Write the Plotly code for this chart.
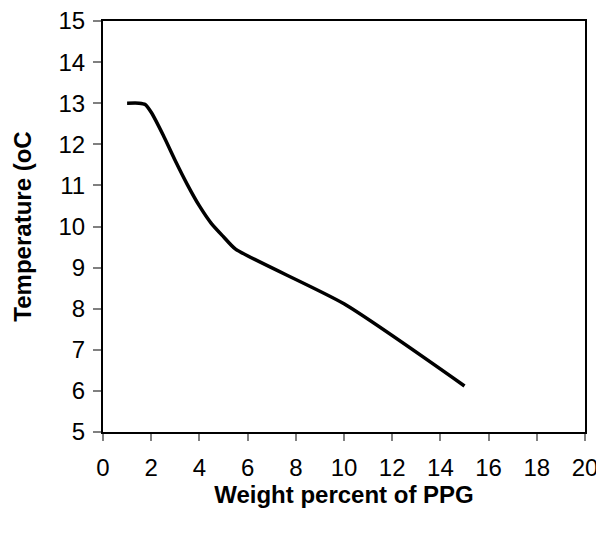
import plotly.graph_objects as go

weight_pct = [1.0, 1.5, 1.75, 2.0, 2.5, 3.0, 3.5, 4.0, 4.5, 5.0, 5.5, 10.0, 15.0]
temperature = [13.0, 13.0, 12.97, 12.78, 12.22, 11.6, 11.02, 10.5, 10.07, 9.75, 9.45, 8.12, 6.12]

x_ticks = [0, 2, 4, 6, 8, 10, 12, 14, 16, 18, 20]
y_ticks = [5, 6, 7, 8, 9, 10, 11, 12, 13, 14, 15]

fig = go.Figure()
fig.add_trace(go.Scatter(
    x=weight_pct, y=temperature, mode="lines",
    line=dict(color="black", width=3.5, shape="spline", smoothing=0.6),
    showlegend=False,
))

font_family = "Liberation Sans, Arial, sans-serif"
fig.update_layout(
    width=596, height=508,
    margin=dict(l=95, r=19, t=13, b=84),
    paper_bgcolor="white", plot_bgcolor="white",
    font=dict(family=font_family, color="black", size=24),
)
fig.update_xaxes(
    range=[0, 20], tickvals=x_ticks, ticktext=[str(v) for v in x_ticks],
    showgrid=False, zeroline=False,
    showline=True, linecolor="black", linewidth=2, mirror=True,
    ticks="outside", ticklen=7, tickcolor="#808080", tickwidth=1.5,
    tickfont=dict(size=24), ticklabelstandoff=6, ticklabeloverflow="allow",
    title=dict(text="<b>Weight percent of PPG</b>", font=dict(size=24), standoff=1),
    automargin=False,
)
fig.update_yaxes(
    range=[5, 15], tickvals=y_ticks, ticktext=[str(v) for v in y_ticks],
    showgrid=False, zeroline=False,
    showline=True, linecolor="black", linewidth=2, mirror=True,
    ticks="outside", ticklen=8, tickcolor="#808080", tickwidth=1.5,
    tickfont=dict(size=24), ticklabelstandoff=3, ticklabeloverflow="allow",
    title=dict(text="<b>Temperature (oC</b>", font=dict(size=24), standoff=20),
    automargin=False,
)

fig.write_html("out.html")
